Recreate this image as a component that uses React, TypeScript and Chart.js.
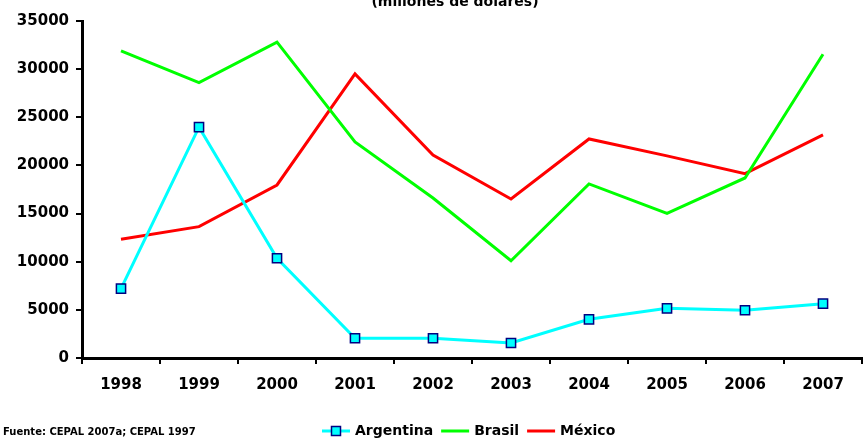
import React, { useEffect, useRef } from "react";
import { Chart, registerables } from "chart.js";

Chart.register(...registerables);

const years = ["1998", "1999", "2000", "2001", "2002", "2003", "2004", "2005", "2006", "2007"];
const argentina = [7200, 23970, 10360, 2050, 2050, 1560, 4020, 5160, 4960, 5640];
const brasil = [31900, 28600, 32800, 22440, 16620, 10100, 18080, 15030, 18700, 31550];
const mexico = [12330, 13640, 17970, 29500, 21090, 16520, 22750, 20990, 19150, 23170];
const yMin = 0;
const yMax = 35000;
const yStep = 5000;
const titleText = "(millones de dólares)";
const sourceText = "Fuente: CEPAL 2007a; CEPAL 1997";

const FONT = '"DejaVu Sans", "Liberation Sans", Arial, sans-serif';

const overlayPlugin = {
  id: "overlay",
  afterDraw(chart: any) {
    const ctx = chart.ctx as CanvasRenderingContext2D;
    ctx.save();
    ctx.fillStyle = "#000";
    // title (partly cut off at the top)
    ctx.font = `bold 14px ${FONT}`;
    ctx.textAlign = "center";
    ctx.textBaseline = "alphabetic";
    ctx.fillText(titleText, 455, 6);
    // source
    ctx.font = `bold 10px ${FONT}`;
    ctx.textAlign = "left";
    ctx.textBaseline = "middle";
    ctx.fillText(sourceText, 3, 432);
    // legend
    ctx.font = `bold 14px ${FONT}`;
    let x = 322;
    const y = 431;
    chart.data.datasets.forEach((ds: any) => {
      ctx.strokeStyle = ds.borderColor;
      ctx.lineWidth = 3;
      ctx.beginPath();
      ctx.moveTo(x, y);
      ctx.lineTo(x + 28, y);
      ctx.stroke();
      if (ds.pointRadius > 0) {
        ctx.fillStyle = ds.pointBackgroundColor;
        ctx.strokeStyle = ds.pointBorderColor;
        ctx.lineWidth = 1.5;
        ctx.fillRect(x + 14 - 4.5, y - 4.5, 9, 9);
        ctx.strokeRect(x + 14 - 4.5, y - 4.5, 9, 9);
      }
      ctx.fillStyle = "#000";
      ctx.fillText(ds.label, x + 33, y);
      x += 33 + ctx.measureText(ds.label).width + 8;
    });
    ctx.restore();
  },
};

export default function App() {
  const ref = useRef<HTMLCanvasElement | null>(null);
  useEffect(() => {
    if (!ref.current) return;
    const chart = new Chart(ref.current, {
      type: "line",
      data: {
        labels: years,
        datasets: [
          {
            label: "Argentina",
            data: argentina,
            borderColor: "#00FFFF",
            backgroundColor: "#00FFFF",
            borderWidth: 3,
            pointStyle: "rect",
            pointRadius: 6.5,
            pointBackgroundColor: "#00FFFF",
            pointBorderColor: "#000080",
            pointBorderWidth: 1.5,
            tension: 0,
          },
          {
            label: "Brasil",
            data: brasil,
            borderColor: "#00FF00",
            backgroundColor: "#00FF00",
            borderWidth: 3,
            pointRadius: 0,
            tension: 0,
          },
          {
            label: "México",
            data: mexico,
            borderColor: "#FF0000",
            backgroundColor: "#FF0000",
            borderWidth: 3,
            pointRadius: 0,
            tension: 0,
          },
        ],
      },
      options: {
        animation: false,
        responsive: false,
        maintainAspectRatio: false,
        devicePixelRatio: 1,
        layout: { padding: { top: 21, left: 0, right: 0, bottom: 0 } },
        plugins: {
          legend: { display: false },
          title: { display: false },
          tooltip: { enabled: false },
        },
        scales: {
          x: {
            offset: true,
            afterFit: (s: any) => {
              s.height = 80;
            },
            grid: {
              display: true,
              offset: true,
              drawOnChartArea: false,
              drawTicks: true,
              tickLength: 6,
              color: "#000",
              lineWidth: 2,
            },
            border: { display: true, color: "#000", width: 3 },
            ticks: {
              color: "#000",
              font: { family: FONT, size: 15, weight: "bold" },
              padding: 12,
              maxRotation: 0,
              autoSkip: false,
            },
          },
          y: {
            min: yMin,
            max: yMax,
            afterFit: (s: any) => {
              s.width = 82;
            },
            grid: {
              display: true,
              drawOnChartArea: false,
              drawTicks: true,
              tickLength: 6,
              color: "#000",
              lineWidth: 2,
            },
            border: { display: true, color: "#000", width: 3 },
            ticks: {
              stepSize: yStep,
              color: "#000",
              font: { family: FONT, size: 15, weight: "bold" },
              padding: 7,
              callback: (v: any) => String(v),
            },
          },
        },
      },
      plugins: [overlayPlugin],
    } as any);
    return () => chart.destroy();
  }, []);
  return (
    <div style={{ position: "absolute", left: 0, top: 0, width: 865, height: 438, overflow: "hidden", background: "#fff" }}>
      <canvas ref={ref} width={870} height={438} style={{ display: "block", width: 870, height: 438 }} />
    </div>
  );
}
